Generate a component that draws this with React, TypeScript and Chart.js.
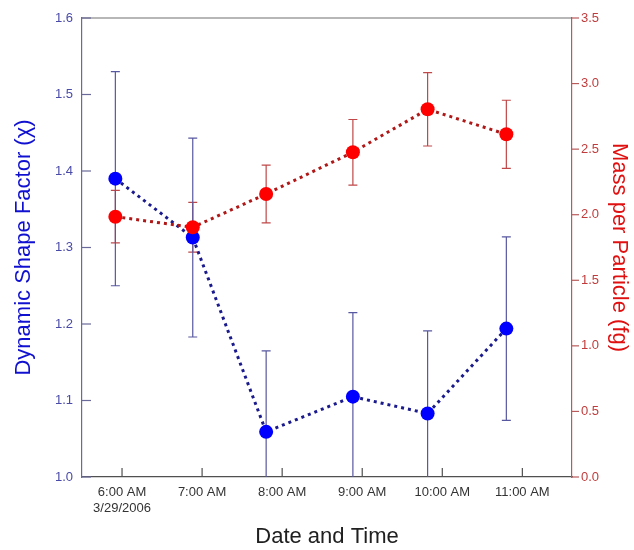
import React, { useEffect, useRef } from "react";
import { Chart, registerables } from "chart.js";

Chart.register(...registerables);

// ---- data ----
const sampleTimes = ["05:55", "06:53", "07:48", "08:53", "09:49", "10:48"];
const shapeFactor = [1.39, 1.313, 1.059, 1.105, 1.083, 1.194];
const shapeFactorErr = [0.14, 0.13, 0.106, 0.11, 0.108, 0.12];
const massPerParticle = [1.985, 1.904, 2.158, 2.476, 2.804, 2.613];
const massErr = [0.2, 0.19, 0.22, 0.25, 0.28, 0.26];
const xTickHours = [6, 7, 8, 9, 10, 11];
const xTickLabels = ["6:00 AM", "7:00 AM", "8:00 AM", "9:00 AM", "10:00 AM", "11:00 AM"];
const dateLabel = "3/29/2006";
const leftTitle = "Dynamic Shape Factor (\u03C7)";
const rightTitle = "Mass per Particle (fg)";
const xTitle = "Date and Time";

const toHours = (t: string) => {
  const [h, m] = t.split(":").map(Number);
  return h + m / 60;
};

const FONT = "'Liberation Sans', Arial, sans-serif";

const errorBarPlugin = {
  id: "errorBars",
  beforeDatasetsDraw(chart: any) {
    const { ctx, chartArea } = chart;
    const xs = chart.scales.x;
    ctx.save();
    ctx.beginPath();
    ctx.rect(chartArea.left, chartArea.top, chartArea.right - chartArea.left, chartArea.bottom - chartArea.top);
    ctx.clip();
    chart.data.datasets.forEach((ds: any) => {
      const ys = chart.scales[ds.yAxisID];
      ctx.strokeStyle = ds.errColor;
      ctx.lineWidth = 1.2;
      ds.data.forEach((p: any, i: number) => {
        const e = ds.errors[i];
        const x = xs.getPixelForValue(p.x);
        const yTop = ys.getPixelForValue(p.y + e);
        const yBot = ys.getPixelForValue(p.y - e);
        ctx.beginPath();
        ctx.moveTo(x, yTop);
        ctx.lineTo(x, yBot);
        ctx.moveTo(x - 4.5, yTop);
        ctx.lineTo(x + 4.5, yTop);
        ctx.moveTo(x - 4.5, yBot);
        ctx.lineTo(x + 4.5, yBot);
        ctx.stroke();
      });
    });
    ctx.restore();
  },
};

const framePlugin = {
  id: "frame",
  afterDraw(chart: any) {
    const { ctx, chartArea } = chart;
    const { left, right, top, bottom } = chartArea;
    ctx.save();
    ctx.lineWidth = 1.2;
    // top border
    ctx.strokeStyle = "#707070";
    ctx.beginPath();
    ctx.moveTo(left, top);
    ctx.lineTo(right, top);
    ctx.stroke();
    // left ticks inward
    const yl = chart.scales.y;
    ctx.strokeStyle = "#6a6a9a";
    yl.ticks.forEach((t: any) => {
      const y = yl.getPixelForValue(t.value);
      ctx.beginPath();
      ctx.moveTo(left, y);
      ctx.lineTo(left + 9, y);
      ctx.stroke();
    });
    // bottom ticks inward
    const xs = chart.scales.x;
    ctx.strokeStyle = "#505050";
    xs.ticks.forEach((t: any) => {
      const x = xs.getPixelForValue(t.value);
      ctx.beginPath();
      ctx.moveTo(x, bottom);
      ctx.lineTo(x, bottom - 9);
      ctx.stroke();
    });
    // right ticks outward
    const yr = chart.scales.y1;
    ctx.strokeStyle = "#b85a5a";
    yr.ticks.forEach((t: any) => {
      const y = yr.getPixelForValue(t.value);
      ctx.beginPath();
      ctx.moveTo(right, y);
      ctx.lineTo(right + 7, y);
      ctx.stroke();
    });
    ctx.restore();
  },
};

export default function App() {
  const ref = useRef<HTMLCanvasElement | null>(null);

  useEffect(() => {
    if (!ref.current) return;
    const xs = sampleTimes.map(toHours);
    const chart = new Chart(ref.current, {
      type: "line",
      data: {
        datasets: [
          {
            label: "Mass per Particle",
            data: xs.map((x, i) => ({ x, y: massPerParticle[i] })),
            yAxisID: "y1",
            borderColor: "#b01818",
            borderWidth: 3,
            borderDash: [3, 4],
            pointRadius: 7,
            pointBackgroundColor: "#ff0000",
            pointBorderColor: "#ff0000",
            pointBorderWidth: 0,
            errors: massErr,
            errColor: "#c04848",
          } as any,
          {
            label: "Dynamic Shape Factor",
            data: xs.map((x, i) => ({ x, y: shapeFactor[i] })),
            yAxisID: "y",
            borderColor: "#1a1a8c",
            borderWidth: 3,
            borderDash: [3, 4],
            pointRadius: 7,
            pointBackgroundColor: "#0000ff",
            pointBorderColor: "#0000ff",
            pointBorderWidth: 0,
            errors: shapeFactorErr,
            errColor: "#5858a0",
          } as any,
        ],
      },
      options: {
        animation: false,
        responsive: false,
        layout: { padding: { top: 18, left: 0, right: 0, bottom: 0 } },
        plugins: { legend: { display: false }, tooltip: { enabled: false } },
        scales: {
          x: {
            type: "linear",
            min: 5.5,
            max: 11.62,
            afterBuildTicks: (s: any) => {
              s.ticks = xTickHours.map((v) => ({ value: v }));
            },
            afterFit: (s: any) => {
              s.height = 73;
            },
            grid: { display: false, drawTicks: false },
            border: { display: true, color: "#505050", width: 1.2 },
            ticks: {
              padding: 8,
              color: "#333333",
              font: { family: FONT, size: 13 },
              maxRotation: 0,
              autoSkip: false,
              callback: (v: any, i: number) =>
                i === 0 ? [xTickLabels[i], dateLabel] : xTickLabels[i],
            },
            title: {
              display: true,
              text: xTitle,
              color: "#202020",
              font: { family: FONT, size: 22 },
              padding: { top: 0, bottom: 0 },
            },
          },
          y: {
            type: "linear",
            position: "left",
            min: 1.0,
            max: 1.6,
            afterFit: (s: any) => {
              s.width = 82;
            },
            grid: { display: false, drawTicks: false },
            border: { display: true, color: "#6a6a9a", width: 1.2 },
            ticks: {
              stepSize: 0.1,
              padding: 9,
              color: "#4a4aa8",
              font: { family: FONT, size: 13 },
              callback: (v: any) => Number(v).toFixed(1),
            },
            title: {
              display: true,
              text: leftTitle,
              color: "#1010d0",
              font: { family: FONT, size: 22 },
              padding: { top: 11, bottom: 0 },
            },
          },
          y1: {
            type: "linear",
            position: "right",
            min: 0,
            max: 3.5,
            afterFit: (s: any) => {
              s.width = 62;
            },
            grid: { display: false, drawTicks: false },
            border: { display: true, color: "#b85a5a", width: 1.2 },
            ticks: {
              stepSize: 0.5,
              padding: 9,
              color: "#c03c3c",
              font: { family: FONT, size: 13 },
              callback: (v: any) => Number(v).toFixed(1),
            },
            title: {
              display: true,
              text: rightTitle,
              color: "#e01010",
              font: { family: FONT, size: 22 },
              padding: { top: 2, bottom: 0 },
            },
          },
        },
      } as any,
      plugins: [errorBarPlugin, framePlugin],
    });
    return () => chart.destroy();
  }, []);

  return (
    <div style={{ position: "absolute", left: 0, top: 0, width: 634, height: 550, background: "#fff" }}>
      <canvas ref={ref} width={634} height={550} />
    </div>
  );
}
